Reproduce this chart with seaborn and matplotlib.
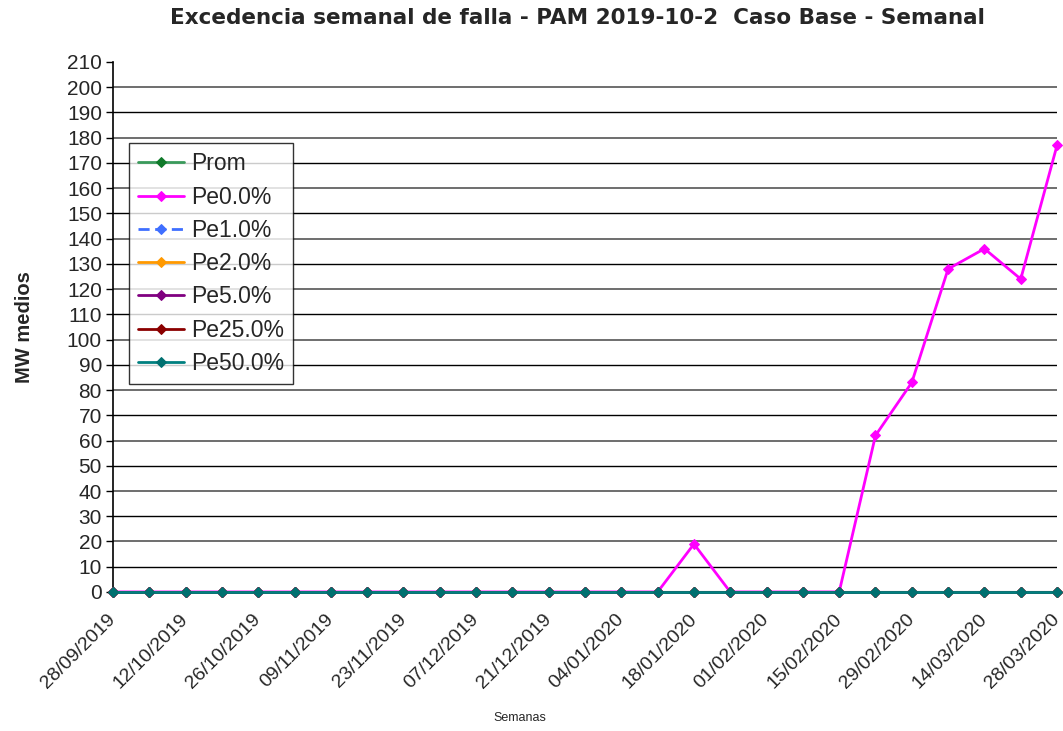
import numpy as np
import pandas as pd
import matplotlib
matplotlib.use("Agg")
import matplotlib.pyplot as plt
import seaborn as sns

fechas = ["28/09/2019", "05/10/2019", "12/10/2019", "19/10/2019", "26/10/2019", "02/11/2019",
          "09/11/2019", "16/11/2019", "23/11/2019", "30/11/2019", "07/12/2019", "14/12/2019",
          "21/12/2019", "28/12/2019", "04/01/2020", "11/01/2020", "18/01/2020", "25/01/2020",
          "01/02/2020", "08/02/2020", "15/02/2020", "22/02/2020", "29/02/2020", "07/03/2020",
          "14/03/2020", "21/03/2020", "28/03/2020"]

prom = [0] * 27
pe0 = [0, 0, 0, 0, 0, 0, 0, 0, 0, 0, 0, 0, 0, 0, 0, 0, 19, 0, 0, 0, 0, 62, 83, 128, 136, 124, 177]
pe1 = [0] * 27
pe2 = [0] * 27
pe5 = [0] * 27
pe25 = [0] * 27
pe50 = [0] * 27

series_names = ["Prom", "Pe0.0%", "Pe1.0%", "Pe2.0%", "Pe5.0%", "Pe25.0%", "Pe50.0%"]
series_vals = [prom, pe0, pe1, pe2, pe5, pe25, pe50]
colors = ["#3a9a5b", "#ff00ff", "#3f6fff", "#ff9900", "#800080", "#8b0000", "#008080"]
marker_colors = ["#107a2a", "#ff00ff", "#3f6fff", "#ff9900", "#800080", "#8b0000", "#007070"]

rows = []
for name, vals in zip(series_names, series_vals):
    for i, v in enumerate(vals):
        rows.append({"idx": i, "valor": v, "serie": name})
df = pd.DataFrame(rows)

sns.set_theme(style="white")
plt.rcParams["font.family"] = ["Liberation Sans", "DejaVu Sans"]

fig = plt.figure(figsize=(10.63, 7.31), dpi=100)
ax = fig.add_axes([0.1063, 0.1902, 0.8881, 0.725])

# gridlines
for k, yv in enumerate(range(10, 210, 10)):
    ax.axhline(yv, color=("#555555" if k % 2 else "#000000"), lw=1.2 if k % 2 else 1.0, zorder=1)

for name, col, mcol in zip(series_names, colors, marker_colors):
    sub = df[df["serie"] == name]
    ls = (0, (4, 2)) if name == "Pe1.0%" else "-"
    sns.lineplot(data=sub, x="idx", y="valor", ax=ax, color=col, lw=2, linestyle=ls,
                 marker="D", markersize=5, markerfacecolor=mcol, markeredgecolor=mcol,
                 label=name, zorder=3, clip_on=False)

ax.set_xlim(0, 26)
ax.set_ylim(0, 210)
ax.set_yticks(range(0, 211, 10))
ax.set_yticklabels([str(v) for v in range(0, 211, 10)], fontsize=15)
ticks = list(range(0, 27, 2))
ax.set_xticks(ticks)
ax.set_xticklabels([fechas[i] for i in ticks], rotation=45, ha="right", va="center",
                   rotation_mode="anchor", fontsize=14)
ax.tick_params(axis="y", which="both", left=True, length=5, width=1, color="black", pad=3)
ax.tick_params(axis="x", bottom=False, pad=12)
for s in ["top", "right", "bottom"]:
    ax.spines[s].set_visible(False)
ax.spines["left"].set_color("black")
ax.spines["left"].set_linewidth(1.2)
ax.axhline(0, color="#555555", lw=1.5, zorder=2)

ax.set_xlabel("")
ax.set_ylabel("MW medios", fontsize=14.5, fontweight="bold")
ax.yaxis.set_label_coords(-0.084, 0.5)
fig.text(520 / 1063, 1 - 718 / 731, "Semanas", fontsize=9, ha="center", va="center")
fig.text(577 / 1063, 1 - 18 / 731,
         "Excedencia semanal de falla - PAM 2019-10-2  Caso Base - Semanal",
         fontsize=15.5, fontweight="bold", ha="center", va="center", family="DejaVu Sans")

leg = ax.legend(loc="upper left", bbox_to_anchor=(0.017, 0.847), frameon=True,
                fontsize=16.5, handlelength=2.0, borderpad=0.4, labelspacing=0.45,
                fancybox=False, handletextpad=0.3, borderaxespad=0)
leg.get_frame().set_edgecolor("black")
leg.get_frame().set_linewidth(1.0)
leg.set_zorder(5)

fig.savefig("out.png", dpi=100)
